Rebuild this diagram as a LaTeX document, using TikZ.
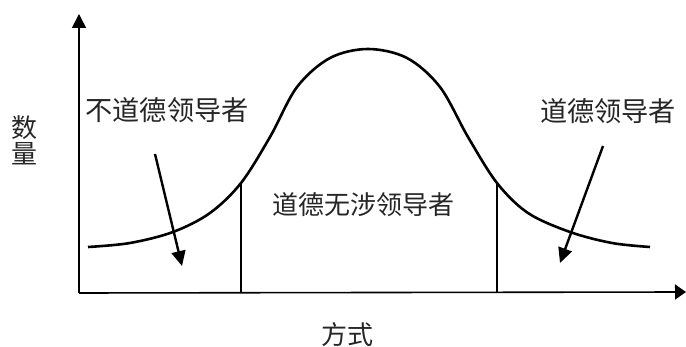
\documentclass[tikz,border=0pt]{standalone}
\usepackage{fontspec}
\newfontfamily\cjk{Noto Sans CJK SC}
\usetikzlibrary{arrows.meta}
\tikzset{
  lbl/.style={font=\cjk\fontsize{26}{28}\selectfont, inner sep=0pt, text=black!85},
  biglbl/.style={lbl, font=\cjk\fontsize{27.2}{29}\selectfont},
  axis/.style={line width=1.6pt},
  curveline/.style={line width=2.6pt, line join=round},
  divider/.style={line width=2.3pt},
  pointer/.style={line width=2.4pt, -{Triangle[length=15pt,width=14pt]}}
}
\begin{document}
\begin{tikzpicture}[x=1pt,y=-1pt]
\useasboundingbox (0,0) rectangle (686,347);
% axes
\coordinate (o) at (79,293);
\coordinate (ytop) at (79,14);
\coordinate (xend) at (686,292);
\draw[axis, -{Triangle[length=14pt,width=14pt]}] (o) -- (ytop);
\draw[axis, -{Triangle[length=11pt,width=15pt]}] (o) -- (xend);
% bell curve
\draw[curveline] plot[smooth, tension=0.55] coordinates {
 (88,247) (130,243) (173,232) (210,213) (241,183) (270,137) (297,87)
 (330,58) (368,49) (407,58) (440,87) (468,137) (497,183) (528,213)
 (570,232) (612,243) (650,247)};
% dividers
\coordinate (l0) at (241,293);
\coordinate (l1) at (241,183);
\coordinate (r0) at (497,292);
\coordinate (r1) at (497,183);
\draw[divider] (l0) -- (l1);
\draw[divider] (r0) -- (r1);
% labels
\node[biglbl] (unethical) at (167,110) {不道德领导者};
\node[biglbl] (ethical) at (608,111) {道德领导者};
\node[lbl] (neutral) at (363,205) {道德无涉领导者};
\node[lbl, align=center] (qty) at (24,140) {数\\[-2pt]量};
\node[lbl] (mode) at (347,335) {方式};
% pointers
\coordinate (pa) at (155,154);
\coordinate (pb) at (182,266);
\coordinate (qa) at (603,146);
\coordinate (qb) at (560,263);
\draw[pointer] (pa) -- (pb);
\draw[pointer] (qa) -- (qb);
\end{tikzpicture}
\end{document}
